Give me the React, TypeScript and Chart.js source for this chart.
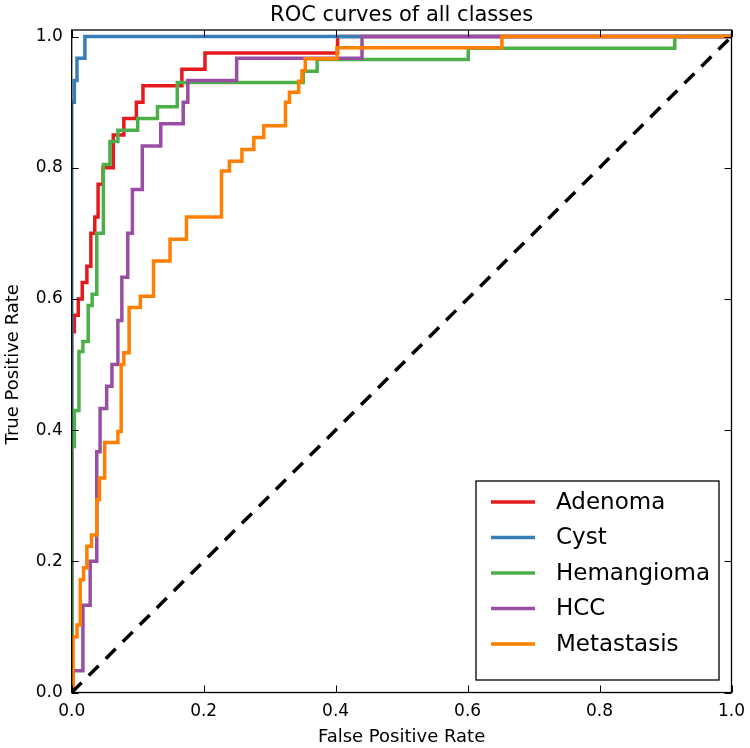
import React, { useEffect, useRef } from "react";
import { Chart, registerables } from "chart.js";

Chart.register(...registerables);

// ---------- data ----------
const classNames = ["Adenoma", "Cyst", "Hemangioma", "HCC", "Metastasis"];
const classColors = ["#e41a1c", "#377eb8", "#4daf4a", "#984ea3", "#ff7f00"];

const adenomaFpr = [0, 0, 0.004, 0.004, 0.01, 0.01, 0.016, 0.016, 0.023, 0.023, 0.029, 0.029, 0.035, 0.035, 0.04, 0.04, 0.0475, 0.0475, 0.063, 0.063, 0.079, 0.079, 0.098, 0.098, 0.108, 0.108, 0.167, 0.167, 0.202, 0.202, 0.403, 0.403, 1];
const adenomaTpr = [0, 0.55, 0.55, 0.575, 0.575, 0.6, 0.6, 0.625, 0.625, 0.65, 0.65, 0.7, 0.7, 0.725, 0.725, 0.775, 0.775, 0.8, 0.8, 0.85, 0.85, 0.875, 0.875, 0.9, 0.9, 0.925, 0.925, 0.95, 0.95, 0.975, 0.975, 1, 1];

const cystFpr = [0, 0, 0.004, 0.004, 0.008, 0.008, 0.02, 0.02, 1];
const cystTpr = [0, 0.9, 0.9, 0.933, 0.933, 0.967, 0.967, 1, 1];

const hemangiomaFpr = [0, 0, 0.004, 0.004, 0.011, 0.011, 0.017, 0.017, 0.025, 0.025, 0.031, 0.031, 0.038, 0.038, 0.048, 0.048, 0.058, 0.058, 0.07, 0.07, 0.1, 0.1, 0.13, 0.13, 0.16, 0.16, 0.351, 0.351, 0.372, 0.372, 0.601, 0.601, 0.914, 0.914, 1];
const hemangiomaTpr = [0, 0.375, 0.375, 0.43, 0.43, 0.52, 0.52, 0.535, 0.535, 0.59, 0.59, 0.607, 0.607, 0.7, 0.7, 0.805, 0.805, 0.84, 0.84, 0.857, 0.857, 0.875, 0.875, 0.893, 0.893, 0.93, 0.93, 0.947, 0.947, 0.965, 0.965, 0.982, 0.982, 1, 1];

const hccFpr = [0, 0.002, 0.002, 0.017, 0.017, 0.028, 0.028, 0.038, 0.038, 0.043, 0.043, 0.053, 0.053, 0.061, 0.061, 0.07, 0.07, 0.076, 0.076, 0.085, 0.085, 0.092, 0.092, 0.107, 0.107, 0.135, 0.135, 0.169, 0.169, 0.176, 0.176, 0.25, 0.25, 0.44, 0.44, 1];
const hccTpr = [0, 0, 0.033, 0.033, 0.133, 0.133, 0.2, 0.2, 0.367, 0.367, 0.433, 0.433, 0.467, 0.467, 0.5, 0.5, 0.567, 0.567, 0.633, 0.633, 0.7, 0.7, 0.767, 0.767, 0.833, 0.833, 0.867, 0.867, 0.9, 0.9, 0.933, 0.933, 0.967, 0.967, 1, 1];

const metastasisFpr = [0, 0.002, 0.002, 0.008, 0.008, 0.013, 0.013, 0.018, 0.018, 0.023, 0.023, 0.03, 0.03, 0.038, 0.038, 0.042, 0.042, 0.05, 0.05, 0.07, 0.07, 0.075, 0.075, 0.079, 0.079, 0.087, 0.087, 0.104, 0.104, 0.124, 0.124, 0.149, 0.149, 0.174, 0.174, 0.227, 0.227, 0.239, 0.239, 0.258, 0.258, 0.276, 0.276, 0.291, 0.291, 0.324, 0.324, 0.33, 0.33, 0.344, 0.344, 0.349, 0.349, 0.354, 0.354, 0.402, 0.402, 0.652, 0.652, 1];
const metastasisTpr = [0, 0, 0.085, 0.085, 0.103, 0.103, 0.172, 0.172, 0.19, 0.19, 0.223, 0.223, 0.24, 0.24, 0.294, 0.294, 0.327, 0.327, 0.381, 0.381, 0.398, 0.398, 0.5, 0.5, 0.518, 0.518, 0.587, 0.587, 0.604, 0.604, 0.658, 0.658, 0.691, 0.691, 0.725, 0.725, 0.795, 0.795, 0.81, 0.81, 0.828, 0.828, 0.846, 0.846, 0.864, 0.864, 0.9, 0.9, 0.915, 0.915, 0.932, 0.932, 0.948, 0.948, 0.966, 0.966, 0.983, 0.983, 1, 1];

const chanceFpr = [0, 1];
const chanceTpr = [0, 1];

const xTickValues = [0, 0.2, 0.4, 0.6, 0.8, 1.0];
const yTickValues = [0, 0.2, 0.4, 0.6, 0.8, 1.0];

const titleText = "ROC curves of all classes";
const xTitle = "False Positive Rate";
const yTitle = "True Positive Rate";

const FONT = "'DejaVu Sans', sans-serif";

const zip = (xs: number[], ys: number[]) => xs.map((x, i) => ({ x, y: ys[i] }));

const curves = [
  [adenomaFpr, adenomaTpr],
  [cystFpr, cystTpr],
  [hemangiomaFpr, hemangiomaTpr],
  [hccFpr, hccTpr],
  [metastasisFpr, metastasisTpr],
];

const decorPlugin = {
  id: "decor",
  afterDatasetsDraw(chart: any) {
    const { ctx, chartArea: a, scales } = chart;
    const xs = scales.x;
    const ys = scales.y;
    ctx.save();
    // spines
    ctx.strokeStyle = "#000";
    ctx.lineWidth = 1.3;
    ctx.strokeRect(a.left, a.top, a.right - a.left, a.bottom - a.top);
    // inward ticks on all sides
    const tl = 7;
    ctx.lineWidth = 1;
    ctx.beginPath();
    xTickValues.forEach((v) => {
      const px = Math.round(xs.getPixelForValue(v)) + 0.5;
      ctx.moveTo(px, a.bottom);
      ctx.lineTo(px, a.bottom - tl);
      ctx.moveTo(px, a.top);
      ctx.lineTo(px, a.top + tl);
    });
    yTickValues.forEach((v) => {
      const py = Math.round(ys.getPixelForValue(v)) + 0.5;
      ctx.moveTo(a.left, py);
      ctx.lineTo(a.left + tl, py);
      ctx.moveTo(a.right, py);
      ctx.lineTo(a.right - tl, py);
    });
    ctx.stroke();

    // title and axis titles
    ctx.fillStyle = "#000";
    ctx.textAlign = "center";
    ctx.textBaseline = "alphabetic";
    ctx.font = `21px ${FONT}`;
    ctx.fillText(titleText, (a.left + a.right) / 2, 21);
    ctx.font = `18px ${FONT}`;
    ctx.textBaseline = "middle";
    ctx.fillText(xTitle, (a.left + a.right) / 2, 737);
    ctx.save();
    ctx.translate(13, (a.top + a.bottom) / 2 + 3);
    ctx.rotate(-Math.PI / 2);
    ctx.fillText(yTitle, 0, 0);
    ctx.restore();

    // legend
    const lw = 243;
    const lh = 199;
    const lx = a.right - 12.5 - lw;
    const ly = a.bottom - 12.5 - lh;
    ctx.fillStyle = "#fff";
    ctx.fillRect(lx, ly, lw, lh);
    ctx.strokeStyle = "#000";
    ctx.lineWidth = 1.3;
    ctx.strokeRect(lx, ly, lw, lh);
    ctx.font = `23px ${FONT}`;
    ctx.textAlign = "left";
    ctx.textBaseline = "middle";
    classNames.forEach((name, i) => {
      const cy = ly + 21 + i * 35.5;
      ctx.strokeStyle = classColors[i];
      ctx.lineWidth = 3.5;
      ctx.beginPath();
      ctx.moveTo(lx + 15, cy);
      ctx.lineTo(lx + 59, cy);
      ctx.stroke();
      ctx.fillStyle = "#000";
      ctx.fillText(name, lx + 80, cy + 1);
    });
    ctx.restore();
  },
};

export default function App() {
  const ref = useRef<HTMLCanvasElement | null>(null);
  useEffect(() => {
    document.body.style.margin = "0";
    if (!ref.current) return;
    const datasets: any[] = curves.map(([fx, ty], i) => ({
      label: classNames[i],
      data: zip(fx, ty),
      borderColor: classColors[i],
      backgroundColor: classColors[i],
      borderWidth: 3.5,
      pointRadius: 0,
      tension: 0,
      fill: false,
      clip: 0,
      borderJoinStyle: "miter",
      borderCapStyle: "butt",
      order: 5 - i,
    }));
    datasets.push({
      label: "chance",
      data: zip(chanceFpr, chanceTpr),
      borderColor: "#000",
      borderWidth: 3.5,
      borderDash: [14, 10],
      pointRadius: 0,
      fill: false,
      clip: 0,
      order: 0,
    });
    const chart = new Chart(ref.current, {
      type: "line",
      data: { datasets },
      plugins: [decorPlugin],
      options: {
        responsive: false,
        animation: false,
        layout: { padding: { top: 30, right: 18.5, bottom: 0, left: 0 } },
        plugins: { legend: { display: false }, title: { display: false }, tooltip: { enabled: false } },
        scales: {
          x: {
            type: "linear",
            min: 0,
            max: 1,
            grid: { display: false, drawTicks: false },
            border: { display: false },
            afterBuildTicks: (s: any) => {
              s.ticks = xTickValues.map((v) => ({ value: v }));
            },
            afterFit: (s: any) => {
              s.height = 55.5;
              s.paddingLeft = 0;
              s.paddingRight = 0;
            },
            ticks: {
              color: "#000",
              font: { family: FONT, size: 17 },
              padding: 9,
              maxRotation: 0,
              callback: (v: any) => Number(v).toFixed(1),
            },
          },
          y: {
            type: "linear",
            min: 0,
            max: 1.01,
            grid: { display: false, drawTicks: false },
            border: { display: false },
            afterBuildTicks: (s: any) => {
              s.ticks = yTickValues.map((v) => ({ value: v }));
            },
            afterFit: (s: any) => {
              s.width = 71.7;
              s.paddingTop = 0;
              s.paddingBottom = 0;
            },
            ticks: {
              color: "#000",
              font: { family: FONT, size: 17 },
              padding: 9,
              callback: (v: any) => Number(v).toFixed(1),
            },
          },
        },
      },
    });
    return () => chart.destroy();
  }, []);
  return (
    <div style={{ width: 750, height: 748 }}>
      <canvas ref={ref} width={750} height={748} style={{ display: "block" }} />
    </div>
  );
}
